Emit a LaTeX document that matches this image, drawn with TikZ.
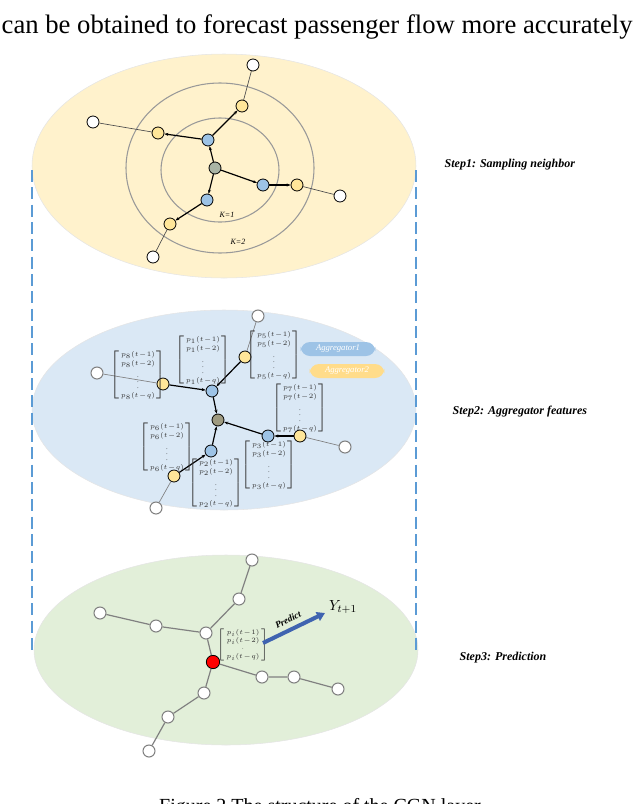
\documentclass[tikz,border=0pt]{standalone}
\usepackage{fontspec}
\setmainfont{Liberation Serif}
\usetikzlibrary{arrows.meta}
\definecolor{ylw}{HTML}{FFF2CC}
\definecolor{blu}{HTML}{DAE8F5}
\definecolor{grn}{HTML}{E2EFD9}
\definecolor{nblue}{HTML}{9DC3E6}
\definecolor{nyel}{HTML}{FFE699}
\definecolor{ngray}{HTML}{A9B4A5}
\definecolor{ngray2}{HTML}{9E9A80}
\definecolor{dashb}{HTML}{5B9BD5}
\definecolor{arr}{HTML}{3F63B0}
\newcommand{\pmat}[1]{$\left[\begin{array}{@{\,}c@{\,}}p_{#1}(t\!-\!1)\\p_{#1}(t\!-\!2)\\\vdots\\p_{#1}(t\!-\!q)\end{array}\right]$}
\begin{document}
\begin{tikzpicture}[x=0.75pt,y=-0.75pt,
  nd/.style={circle,draw=black,line width=0.6pt,minimum size=9pt,inner sep=0pt},
  wn/.style={nd,fill=white},
  gn/.style={circle,draw=gray,line width=0.8pt,fill=white,minimum size=9pt,inner sep=0pt},
  bn/.style={nd,fill=nblue},
  yn/.style={nd,fill=nyel},
  ar/.style={-{Stealth[length=3pt]},line width=0.9pt},
  thin/.style={gray,line width=0.5pt},
  glin/.style={gray,line width=0.9pt},
  mat/.style={inner sep=0pt,font=\fontsize{5}{7.2}\selectfont,text=black!80},
  steplbl/.style={font=\fontsize{9}{10}\selectfont\bfseries\itshape,anchor=west},
  pill/.style={rounded corners=7pt,minimum width=56pt,minimum height=10.5pt,inner sep=0pt,text=white,font=\fontsize{6.5}{7}\selectfont\itshape}]
\useasboundingbox (0,0) rectangle (640,804);
\clip (0,0) rectangle (640,804);
\node[anchor=west,font=\fontsize{20}{21}\selectfont] (top) at (-3,27) {can be obtained to forecast passenger flow more accurately};
\node[font=\fontsize{15}{16}\selectfont] (cap) at (320,808) {Figure 2 The structure of the CGN layer};
% ellipses
\fill[ylw,draw=black!10] (224,166) ellipse [x radius=192,y radius=112];
\fill[blu,draw=black!10] (224,410) ellipse [x radius=192,y radius=100];
\fill[grn,draw=black!10] (226,650) ellipse [x radius=192,y radius=95];
\coordinate (dl1) at (32,170); \coordinate (dl2) at (32,655);
\coordinate (dr1) at (416,170); \coordinate (dr2) at (416,655);
\draw[dashb,dashed,dash pattern=on 9pt off 4pt,line width=0.8pt] (dl1)--(dl2) (dr1)--(dr2);
% step 1
\draw[gray!80,line width=0.8pt] (220,170) ellipse [x radius=59,y radius=52];
\draw[gray!80,line width=0.8pt] (220,168) ellipse [x radius=94,y radius=85];
\node[font=\fontsize{6}{7}\selectfont\itshape] (k1) at (227,215) {K=1};
\node[font=\fontsize{6}{7}\selectfont\itshape] (k2) at (238,242) {K=2};
\node[nd,fill=ngray] (c) at (215,168) {};
\node[bn] (b1) at (208,140) {};
\node[bn] (b2) at (263,185) {};
\node[bn] (b3) at (207,200) {};
\node[yn] (y1) at (242,106) {};
\node[yn] (y2) at (158,133) {};
\node[yn] (y3) at (297,185) {};
\node[yn] (y4) at (170,224) {};
\node[wn] (w1) at (253,65) {};
\node[wn] (w2) at (93,122) {};
\node[wn] (w3) at (340,196) {};
\node[wn] (w4) at (153,257) {};
\draw[ar] (c)--(b1); \draw[ar] (c)--(b2); \draw[ar] (c)--(b3);
\draw[ar] (b1)--(y1); \draw[ar] (b1)--(y2); \draw[ar] (b2)--(y3); \draw[ar] (b3)--(y4);
\draw[thin,black!70] (y1)--(w1) (y2)--(w2) (y3)--(w3) (y4)--(w4);
\node[steplbl] (s1) at (440,165) {Step1: Sampling neighbor};
% step 2
\node[gn] (mw1) at (97,373) {};
\node[gn] (mw2) at (258,316) {};
\node[gn] (mw3) at (345,447) {};
\node[gn] (mw4) at (156,508) {};
\node[nd,fill=ngray2] (mc) at (218,420) {};
\node[bn] (mb1) at (212,391) {};
\node[bn] (mb2) at (268,436) {};
\node[bn] (mb3) at (211,451) {};
\node[yn] (my1) at (163,384) {};
\node[yn] (my2) at (245,357) {};
\node[yn] (my3) at (300,436) {};
\node[yn] (my4) at (174,476) {};
\draw[thin] (mw1)--(my1) (mw2)--(my2) (mw3)--(my3) (mw4)--(my4);
\draw[ar] (my1)--(mb1); \draw[ar] (my2)--(mb1); \draw[ar] (my3)--(mb2); \draw[ar] (my4)--(mb3);
\draw[ar] (mb1)--(mc); \draw[ar] (mb2)--(mc); \draw[ar] (mb3)--(mc);
\node[mat] (m8) at (138,375) {\pmat{8}};
\node[mat] (m1) at (203,360) {\pmat{1}};
\node[mat] (m5) at (274,355) {\pmat{5}};
\node[mat] (m7) at (300,408) {\pmat{7}};
\node[mat] (m3) at (269,465) {\pmat{3}};
\node[mat] (m6) at (167,447) {\pmat{6}};
\node[mat] (m2) at (216,483) {\pmat{2}};
\node[pill,fill=nblue] (ag1) at (338,349) {Aggregator1};
\node[pill,fill=nyel!90!orange] (ag2) at (347,371) {Aggregator2};
\node[steplbl] (s2) at (448,412) {Step2: Aggregator features};
% step 3
\node[circle,draw=black,fill=red,line width=0.6pt,minimum size=10pt,inner sep=0pt] (red) at (213,662) {};
\node[gn] (p1) at (206,633) {};
\node[gn] (p2) at (239,599) {};
\node[gn] (p3) at (252,560) {};
\node[gn] (p4) at (156,626) {};
\node[gn] (p5) at (100,613) {};
\node[gn] (p6) at (262,677) {};
\node[gn] (p7) at (294,677) {};
\node[gn] (p8) at (338,689) {};
\node[gn] (p9) at (204,693) {};
\node[gn] (p10) at (168,717) {};
\node[gn] (p11) at (149,751) {};
\draw[glin] (red)--(p1)--(p2)--(p3) (p1)--(p4)--(p5) (red)--(p6)--(p7)--(p8) (red)--(p9)--(p10)--(p11);
\node[mat,font=\fontsize{4.3}{6}\selectfont] (mi) at (243,645) {$\left[\begin{array}{@{\,}c@{\,}}p_i(t\!-\!1)\\p_i(t\!-\!2)\\\cdot\\p_i(t\!-\!q)\end{array}\right]$};
\coordinate (pa) at (263,643); \coordinate (pb) at (325,613);
\draw[-{Triangle[length=6pt,width=7pt]},arr,line width=3pt] (pa)--(pb);
\node[font=\fontsize{7}{8}\selectfont\bfseries\itshape,rotate=26] (pr) at (288,620) {Predict};
\node[font=\fontsize{11}{12}\selectfont\itshape] (yt) at (343,607) {$Y_{t+1}$};
\node[steplbl] (s3) at (455,658) {Step3: Prediction};
\end{tikzpicture}
\end{document}
